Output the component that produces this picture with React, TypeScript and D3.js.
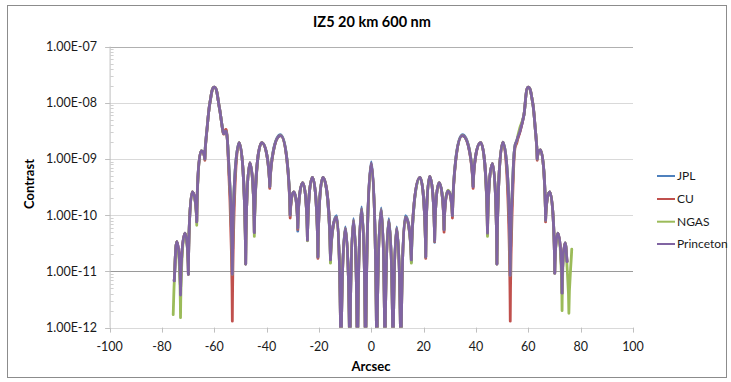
import React from "react";
import * as d3 from "d3";

// Angular offset from the star (arcsec)
const arcsec = [
  -75.7, -75.3, -74.3, -72.9, -71.2, -69.9, -68.4, -66.7, -65.0, -63.6,
  -62.7, -61.7, -60.0, -58.0, -56.6, -54.9, -53.1, -50.5, -48.0, -46.4,
  -44.7, -41.9, -38.8, -34.7, -31.0, -29.6, -28.1, -26.2, -24.4, -22.5,
  -20.4, -18.5, -15.6, -13.2, -11.6, -9.9, -8.2, -6.8, -5.3, -3.7,
  -2.2, 0.0, 2.1, 3.8, 5.2, 6.7, 8.3, 9.7, 11.3, 13.0,
  15.3, 18.6, 20.8, 22.3, 24.2, 25.9, 27.8, 29.3, 31.0, 34.8,
  38.9, 41.8, 44.4, 46.3, 48.0, 50.3, 53.1, 54.4, 55.7, 56.7,
  58.3, 59.9, 61.7, 62.6, 63.4, 64.6, 66.6, 68.2, 70.1, 71.3,
  72.9, 74.0, 74.8, 75.5, 76.6,
];

// Contrast per model (null = not computed at that offset)
const princeton = [
  null, 6.8e-12, 3.4e-11, 3.8e-12, 4.8e-11, 8.9e-12, 2.6e-10, 7.6e-11, 1.4e-9, 1.0e-9,
  3.7e-9, 9.8e-9, 1.9e-8, 7.9e-9, 3.0e-9, 1.9e-9, 8.9e-12, 1.95e-9, 1.35e-11, 8.5e-10,
  4.9e-11, 1.95e-9, 3.2e-10, 2.6e-9, 1.0e-10, 2.6e-10, 5.9e-11, 3.8e-10, 3.6e-11, 4.7e-10,
  1.8e-11, 4.7e-10, 1.6e-11, 9.1e-11, 1e-13, 5.8e-11, 1e-13, 8.1e-11, 1e-13, 1.3e-10,
  1e-13, 8.3e-10, 1e-13, 1.26e-10, 1e-13, 8.1e-11, 1e-13, 5.8e-11, 1e-13, 9.1e-11,
  1.6e-11, 4.7e-10, 1.8e-11, 4.9e-10, 3.5e-11, 3.8e-10, 5.5e-11, 2.7e-10, 9.8e-11, 2.6e-9,
  3.2e-10, 1.95e-9, 4.8e-11, 8.3e-10, 1.35e-11, 2.0e-9, 8.5e-12, 9.5e-10, 2.2e-9, 3.0e-9,
  6.0e-9, 1.9e-8, 9.8e-9, 3.7e-9, 1.0e-9, 1.45e-9, 8.1e-11, 2.6e-10, 9.3e-12, 4.8e-11,
  4.1e-12, 3.2e-11, 1.5e-11, null, null,
];

const jpl = [
  null, 6.8e-12, 3.4e-11, 3.8e-12, 4.8e-11, 8.9e-12, 2.6e-10, 7.6e-11, 1.4e-9, 1.0e-9,
  3.7e-9, 9.8e-9, 1.9e-8, 7.9e-9, 3.0e-9, 1.9e-9, 8.9e-12, 1.95e-9, 1.35e-11, 8.5e-10,
  4.9e-11, 1.95e-9, 3.2e-10, 2.7e-9, 1.0e-10, 2.6e-10, 5.2e-11, 3.8e-10, 3.6e-11, 4.7e-10,
  1.8e-11, 4.7e-10, 1.45e-11, 9.8e-11, 1e-13, 6.2e-11, 1e-13, 8.7e-11, 1e-13, 1.4e-10,
  1e-13, 8.9e-10, 1e-13, 1.35e-10, 1e-13, 8.7e-11, 1e-13, 6.2e-11, 1e-13, 9.8e-11,
  1.45e-11, 4.7e-10, 1.8e-11, 4.9e-10, 3.3e-11, 3.8e-10, 5.5e-11, 2.7e-10, 9.8e-11, 2.7e-9,
  3.2e-10, 1.95e-9, 4.8e-11, 8.3e-10, 1.35e-11, 2.0e-9, 8.5e-12, 9.5e-10, 2.2e-9, 3.0e-9,
  6.0e-9, 1.9e-8, 9.8e-9, 3.7e-9, 1.0e-9, 1.45e-9, 8.1e-11, 2.6e-10, 9.3e-12, 4.8e-11,
  4.1e-12, 3.2e-11, 1.5e-11, null, null,
];

const cu = [
  null, 6.8e-12, 3.4e-11, 3.8e-12, 4.8e-11, 8.9e-12, 2.6e-10, 7.6e-11, 1.4e-9, 9.5e-10,
  3.7e-9, 9.8e-9, 1.9e-8, 7.9e-9, 2.9e-9, 1.8e-9, 1.3e-12, 1.95e-9, 1.35e-11, 8.5e-10,
  4.9e-11, 1.95e-9, 3.0e-10, 2.6e-9, 8.9e-11, 2.6e-10, 5.6e-11, 3.8e-10, 3.6e-11, 4.7e-10,
  1.7e-11, 4.7e-10, 1.6e-11, 9.1e-11, 1e-13, 5.8e-11, 1e-13, 8.1e-11, 1e-13, 1.3e-10,
  1e-13, 8.3e-10, 1e-13, 1.26e-10, 1e-13, 8.1e-11, 1e-13, 5.8e-11, 1e-13, 9.1e-11,
  1.6e-11, 4.7e-10, 1.7e-11, 4.9e-10, 3.4e-11, 3.8e-10, 5.0e-11, 2.7e-10, 8.9e-11, 2.6e-9,
  3.0e-10, 1.95e-9, 4.5e-11, 8.3e-10, 1.35e-11, 2.0e-9, 1.3e-12, 7.1e-10, 2.0e-9, 2.9e-9,
  6.0e-9, 1.9e-8, 9.8e-9, 3.7e-9, 9.5e-10, 1.45e-9, 7.6e-11, 2.6e-10, 9.3e-12, 4.8e-11,
  4.1e-12, 3.2e-11, 1.5e-11, null, null,
];

const ngas = [
  1.7e-12, 6.3e-12, 3.4e-11, 1.5e-12, 4.8e-11, 8.9e-12, 2.6e-10, 6.6e-11, 1.4e-9, 1.0e-9,
  3.7e-9, 9.8e-9, 1.9e-8, 7.9e-9, 3.0e-9, 1.9e-9, 8.9e-12, 1.95e-9, 1.35e-11, 8.5e-10,
  4.2e-11, 1.95e-9, 3.2e-10, 2.6e-9, 1.0e-10, 2.6e-10, 5.9e-11, 3.8e-10, 3.5e-11, 4.7e-10,
  1.8e-11, 4.7e-10, 1.4e-11, 9.1e-11, 1e-13, 5.8e-11, 1e-13, 8.1e-11, 1e-13, 1.3e-10,
  1e-13, 7.9e-10, 1e-13, 1.26e-10, 1e-13, 8.1e-11, 1e-13, 5.8e-11, 1e-13, 9.1e-11,
  1.4e-11, 4.7e-10, 1.8e-11, 4.9e-10, 3.5e-11, 3.8e-10, 5.5e-11, 2.8e-10, 9.8e-11, 2.6e-9,
  3.4e-10, 1.95e-9, 4.2e-11, 8.3e-10, 1.35e-11, 2.0e-9, 8.5e-12, 9.5e-10, 2.2e-9, 3.5e-9,
  6.0e-9, 1.9e-8, 9.8e-9, 3.7e-9, 1.0e-9, 1.45e-9, 8.1e-11, 2.6e-10, 9.3e-12, 4.8e-11,
  2.0e-12, 3.2e-11, 1.2e-11, 1.8e-12, 2.5e-11,
];

const seriesNames = ["JPL", "CU", "NGAS", "Princeton"];
const seriesValues = [jpl, cu, ngas, princeton];
const seriesColors = ["#4F81BD", "#C0504D", "#9BBB59", "#8064A2"];

const xTicks = [-100, -80, -60, -40, -20, 0, 20, 40, 60, 80, 100];
const yTicks = [1e-12, 1e-11, 1e-10, 1e-9, 1e-8, 1e-7];

const title = "IZ5 20 km 600 nm";
const xTitle = "Arcsec";
const yTitle = "Contrast";

const W = 731;
const H = 382;
const plot = { left: 109.6, right: 633, top: 46.6, bottom: 327.6 };
const FONT = "Lato, 'Open Sans', sans-serif";

// Curve for diffraction sidelobes: rounded crests, sharp cusps at nulls.
function lobeCurve(context: any) {
  let xs: number[] = [];
  let ys: number[] = [];
  const draw = () => {
    const n = xs.length;
    if (!n) return;
    context.moveTo(xs[0], ys[0]);
    if (n === 1) return;
    const kind: string[] = [];
    const slope: number[] = [];
    for (let i = 0; i < n; i++) {
      let k = "mid";
      if (i > 0 && i < n - 1) {
        if (ys[i] > ys[i - 1] && ys[i] > ys[i + 1]) k = "min";
        else if (ys[i] < ys[i - 1] && ys[i] < ys[i + 1]) k = "max";
      }
      kind.push(k);
      const a = Math.max(0, i - 1);
      const b = Math.min(n - 1, i + 1);
      slope.push((ys[b] - ys[a]) / (xs[b] - xs[a]));
    }
    for (let i = 0; i < n - 1; i++) {
      const x0 = xs[i], y0 = ys[i], x1 = xs[i + 1], y1 = ys[i + 1];
      const dx = x1 - x0, dy = y1 - y0;
      let c1x: number, c1y: number, c2x: number, c2y: number;
      if (kind[i] === "max") { c1x = x0 + 0.55 * dx; c1y = y0; }
      else if (kind[i] === "min") { c1x = x0 + 0.08 * dx; c1y = y0 + 0.5 * dy; }
      else { c1x = x0 + dx / 3; c1y = y0 + (slope[i] * dx) / 3; }
      if (kind[i + 1] === "max") { c2x = x1 - 0.55 * dx; c2y = y1; }
      else if (kind[i + 1] === "min") { c2x = x1 - 0.08 * dx; c2y = y1 - 0.5 * dy; }
      else { c2x = x1 - dx / 3; c2y = y1 - (slope[i + 1] * dx) / 3; }
      context.bezierCurveTo(c1x, c1y, c2x, c2y, x1, y1);
    }
  };
  return {
    areaStart() {},
    areaEnd() {},
    lineStart() { xs = []; ys = []; },
    lineEnd() { draw(); },
    point(x: number, y: number) { xs.push(+x); ys.push(+y); },
  };
}

const fmtExp = (v: number) => {
  const e = Math.round(Math.log10(v));
  const sign = e < 0 ? "-" : "+";
  return `1.00E${sign}${String(Math.abs(e)).padStart(2, "0")}`;
};

export default function App() {
  const x = d3.scaleLinear().domain([-100, 100]).range([plot.left, plot.right]);
  const y = d3.scaleLog().domain([1e-12, 1e-7]).range([plot.bottom, plot.top]);

  const line = d3
    .line<[number, number | null]>()
    .defined((d) => d[1] != null)
    .x((d) => x(d[0]))
    .y((d) => y(d[1] as number))
    .curve(lobeCurve as any);

  const minorTicks: number[] = [];
  for (let e = -12; e < -7; e++) {
    for (let m = 2; m <= 9; m++) minorTicks.push(m * Math.pow(10, e));
  }

  const legendY = [176, 199, 221.7, 244];

  return (
    <svg
      width={W}
      height={H}
      style={{ position: "absolute", left: 0, top: 0, background: "#fff" }}
      fontFamily={FONT}
    >
      <defs>
        <clipPath id="plotClip">
          <rect x={plot.left} y={plot.top - 5} width={plot.right - plot.left} height={plot.bottom - plot.top + 5} />
        </clipPath>
      </defs>
      <rect x={7.5} y={5.5} width={719} height={372} fill="#fff" stroke="#8c8c8c" strokeWidth={1} />

      <text x={372} y={27} textAnchor="middle" fontSize={14.5} fontWeight="bold" fill="#000">
        {title}
      </text>

      {/* horizontal gridlines at each decade */}
      {yTicks.map((t) => (
        <line
          key={"g" + t}
          x1={plot.left}
          x2={plot.right}
          y1={Math.round(y(t)) + 0.5}
          y2={Math.round(y(t)) + 0.5}
          stroke={t === 1e-11 ? "#9a9a9a" : t === 1e-7 ? "#b0b0b0" : "#d9d9d9"}
          strokeWidth={1}
        />
      ))}

      {/* y axis */}
      <line x1={plot.left + 0.5} x2={plot.left + 0.5} y1={plot.top} y2={plot.bottom} stroke="#bfbfbf" />
      {yTicks.map((t) => (
        <g key={"yt" + t}>
          <line x1={plot.left - 4.5} x2={plot.left + 0.5} y1={Math.round(y(t)) + 0.5} y2={Math.round(y(t)) + 0.5} stroke="#bfbfbf" />
          <text x={97} y={y(t)} dy="0.35em" textAnchor="end" fontSize={12.5} fill="#1a1a1a">
            {fmtExp(t)}
          </text>
        </g>
      ))}
      {minorTicks.map((t) => (
        <line key={"m" + t} x1={plot.left + 0.5} x2={plot.left + 4} y1={Math.round(y(t)) + 0.5} y2={Math.round(y(t)) + 0.5} stroke="#d0d0d0" />
      ))}

      {/* x axis ticks and labels */}
      {xTicks.map((t) => (
        <g key={"xt" + t}>
          <line x1={Math.round(x(t)) + 0.5} x2={Math.round(x(t)) + 0.5} y1={plot.bottom} y2={plot.bottom + 5} stroke="#bfbfbf" />
          <text x={x(t)} y={347} dy="0.35em" textAnchor="middle" fontSize={12.5} fill="#1a1a1a">
            {t}
          </text>
        </g>
      ))}

      {/* series */}
      <g clipPath="url(#plotClip)">
        {seriesValues.map((vals, i) => (
          <path
            key={seriesNames[i]}
            d={line(arcsec.map((a, j) => [a, vals[j]] as [number, number | null])) || ""}
            fill="none"
            stroke={seriesColors[i]}
            strokeWidth={2.8}
            strokeLinejoin="round"
            strokeLinecap="round"
          />
        ))}
      </g>

      <text x={371} y={366} dy="0.35em" textAnchor="middle" fontSize={13} fontWeight="bold" fill="#000">
        {xTitle}
      </text>
      <text
        transform={`translate(29,184) rotate(-90)`}
        dy="0.35em"
        textAnchor="middle"
        fontSize={13}
        fontWeight="bold"
        fill="#000"
      >
        {yTitle}
      </text>

      {/* legend */}
      {seriesNames.map((name, i) => (
        <g key={"lg" + name}>
          <line x1={657} x2={675} y1={legendY[i]} y2={legendY[i]} stroke={seriesColors[i]} strokeWidth={2} />
          <text x={677} y={legendY[i]} dy="0.35em" fontSize={12} fill="#1a1a1a">
            {name}
          </text>
        </g>
      ))}
    </svg>
  );
}
